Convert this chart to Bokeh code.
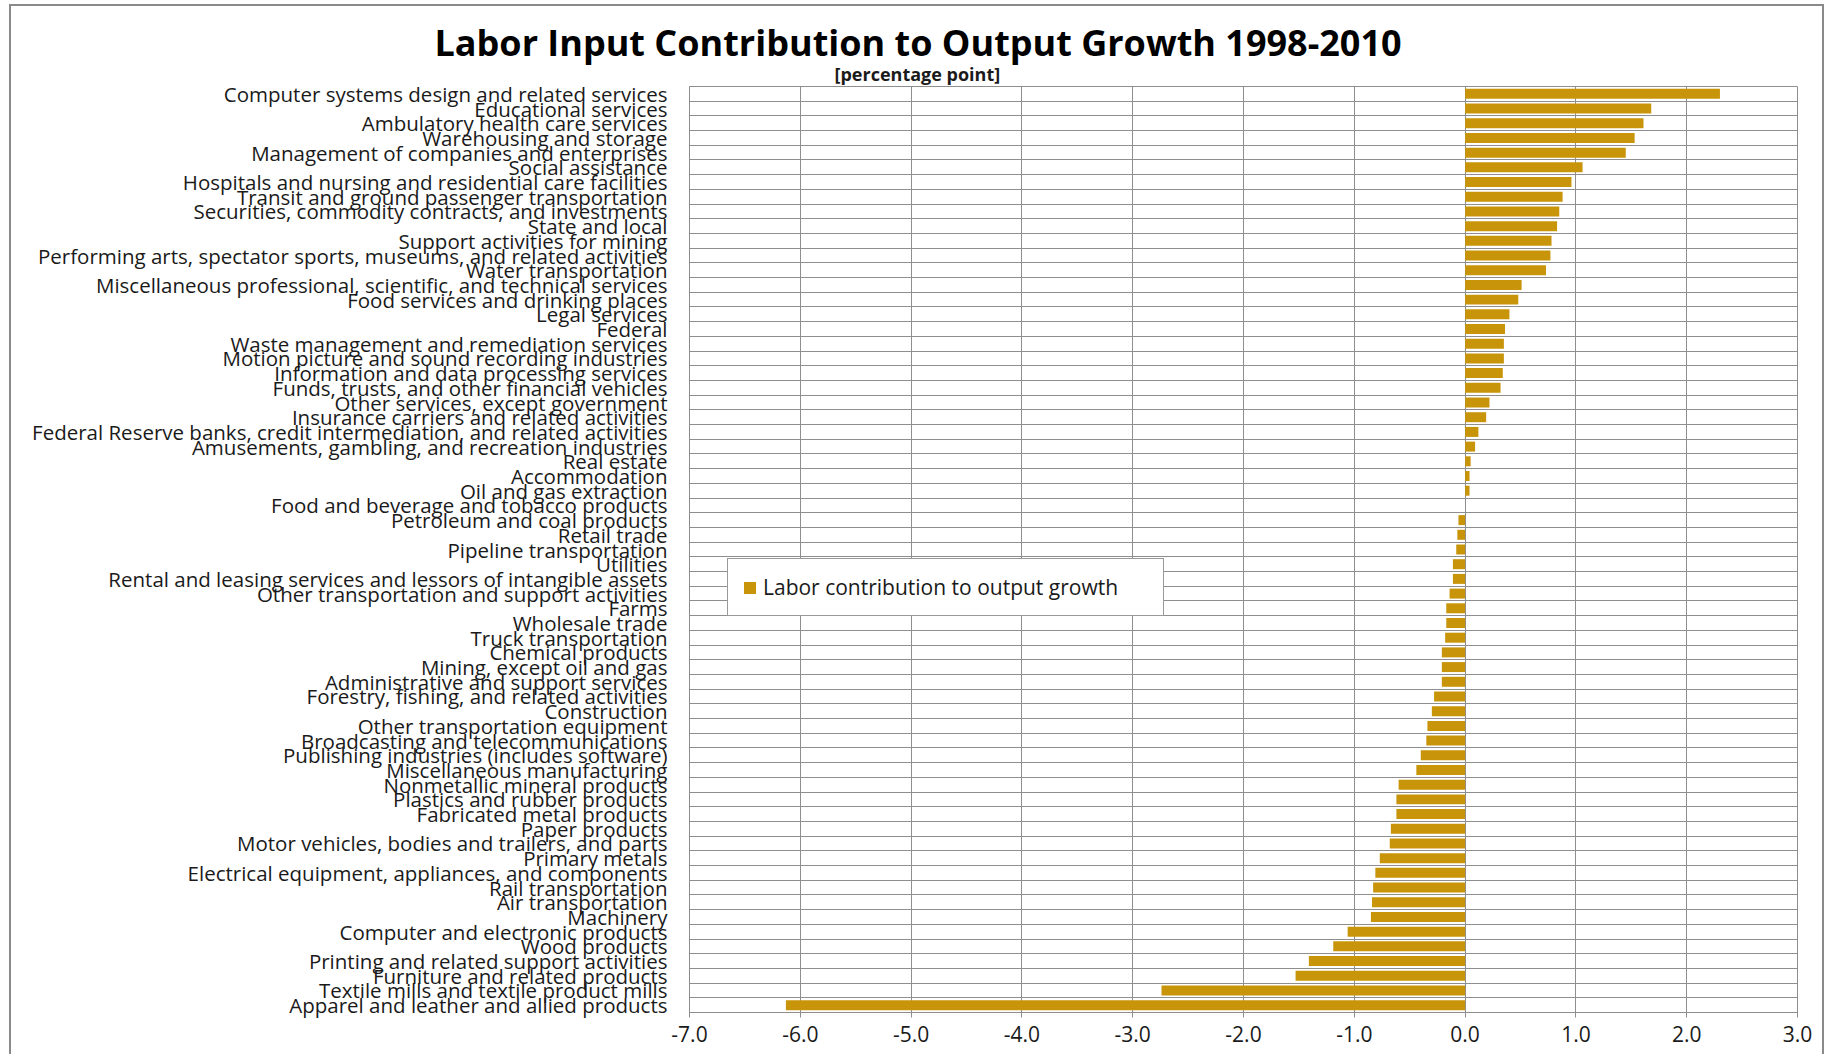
from bokeh.plotting import figure
from bokeh.models import (Range1d, FixedTicker, PrintfTickFormatter, Title, Legend, LegendItem,
                          ColumnDataSource)
from bokeh.embed import file_html
from bokeh.resources import INLINE

industries = [
    "Computer systems design and related services",
    "Educational services",
    "Ambulatory health care services",
    "Warehousing and storage",
    "Management of companies and enterprises",
    "Social assistance",
    "Hospitals and nursing and residential care facilities",
    "Transit and ground passenger transportation",
    "Securities, commodity contracts, and investments",
    "State and local",
    "Support activities for mining",
    "Performing arts, spectator sports, museums, and related activities",
    "Water transportation",
    "Miscellaneous professional, scientific, and technical services",
    "Food services and drinking places",
    "Legal services",
    "Federal",
    "Waste management and remediation services",
    "Motion picture and sound recording industries",
    "Information and data processing services",
    "Funds, trusts, and other financial vehicles",
    "Other services, except government",
    "Insurance carriers and related activities",
    "Federal Reserve banks, credit intermediation, and related activities",
    "Amusements, gambling, and recreation industries",
    "Real estate",
    "Accommodation",
    "Oil and gas extraction",
    "Food and beverage and tobacco products",
    "Petroleum and coal products",
    "Retail trade",
    "Pipeline transportation",
    "Utilities",
    "Rental and leasing services and lessors of intangible assets",
    "Other transportation and support activities",
    "Farms",
    "Wholesale trade",
    "Truck transportation",
    "Chemical products",
    "Mining, except oil and gas",
    "Administrative and support services",
    "Forestry, fishing, and related activities",
    "Construction",
    "Other transportation equipment",
    "Broadcasting and telecommunications",
    "Publishing industries (includes software)",
    "Miscellaneous manufacturing",
    "Nonmetallic mineral products",
    "Plastics and rubber products",
    "Fabricated metal products",
    "Paper products",
    "Motor vehicles, bodies and trailers, and parts",
    "Primary metals",
    "Electrical equipment, appliances, and components",
    "Rail transportation",
    "Air transportation",
    "Machinery",
    "Computer and electronic products",
    "Wood products",
    "Printing and related support activities",
    "Furniture and related products",
    "Textile mills and textile product mills",
    "Apparel and leather and allied products",
]

labor_contribution = [
    2.30, 1.68, 1.61, 1.53, 1.45, 1.06, 0.96, 0.88, 0.85, 0.83,
    0.78, 0.77, 0.73, 0.51, 0.48, 0.40, 0.36, 0.35, 0.35, 0.34,
    0.32, 0.22, 0.19, 0.12, 0.09, 0.05, 0.04, 0.04, 0.00, -0.06,
    -0.07, -0.08, -0.11, -0.11, -0.14, -0.17, -0.17, -0.18, -0.21, -0.21,
    -0.21, -0.28, -0.30, -0.34, -0.35, -0.40, -0.44, -0.60, -0.62, -0.62,
    -0.67, -0.68, -0.77, -0.81, -0.83, -0.84, -0.85, -1.06, -1.19, -1.41,
    -1.53, -2.74, -6.13,
]

x_ticks = [-7, -6, -5, -4, -3, -2, -1, 0, 1, 2, 3]

title_text = "Labor Input Contribution to Output Growth 1998-2010"
subtitle_text = "[percentage point]"
legend_text = "Labor contribution to output growth"

FONT = "Open Sans"
BAR = "#C8940A"
GRID = "#8E8E8E"
TEXT = "#1a1a1a"

n = len(industries)
positions = list(range(n))
source = ColumnDataSource(dict(pos=positions, value=labor_contribution, name=industries))

p = figure(width=1815, height=1050, output_backend="svg", toolbar_location=None,
           title=None, x_range=Range1d(x_ticks[0], x_ticks[-1]),
           y_range=Range1d(n - 0.5, -0.5),
           min_border_left=678, min_border_right=29, min_border_top=80, min_border_bottom=44)
p.styles = {"border-left": "2px solid #8a8a8a", "border-top": "2px solid #8a8a8a",
            "border-right": "2px solid #8a8a8a", "margin-left": "9px", "margin-top": "4px"}

r = p.hbar(y="pos", right="value", left=0, height=0.68, source=source,
           fill_color=BAR, line_color=None)

# x axis
p.xaxis.ticker = FixedTicker(ticks=x_ticks)
p.xaxis.formatter = PrintfTickFormatter(format="%.1f")
p.xaxis.major_label_text_font = FONT
p.xaxis.major_label_text_font_size = "21px"
p.xaxis.major_label_text_color = TEXT
p.xaxis.axis_line_color = GRID
p.xaxis.major_tick_line_color = GRID
p.xaxis.major_tick_out = 5
p.xaxis.major_tick_in = 0
p.xaxis.minor_tick_line_color = None
p.xaxis.major_label_standoff = 8

# y axis
p.yaxis.ticker = FixedTicker(ticks=positions)
p.yaxis.major_label_overrides = {i: nm for i, nm in zip(positions, industries)}
p.yaxis.major_label_text_font = FONT
p.yaxis.major_label_text_font_size = "20.5px"
p.yaxis.major_label_text_color = TEXT
p.yaxis.axis_line_color = GRID
p.yaxis.major_tick_line_color = None
p.yaxis.minor_tick_line_color = None
p.yaxis.major_tick_out = 0
p.yaxis.major_tick_in = 0
p.yaxis.major_label_standoff = 22

# grids
p.xgrid.ticker = FixedTicker(ticks=x_ticks)
p.xgrid.grid_line_color = GRID
p.xgrid.grid_line_width = 1
p.ygrid.ticker = FixedTicker(ticks=[k - 0.5 for k in range(n + 1)])
p.ygrid.grid_line_color = GRID
p.ygrid.grid_line_width = 1
p.outline_line_color = GRID
p.outline_line_width = 1

# titles (first added sits closest to the plot)
p.add_layout(Title(text=subtitle_text, align="left", offset=145, text_font=FONT,
                   text_font_size="18px", text_font_style="bold", text_color=TEXT,
                   standoff=2), "above")
p.add_layout(Title(text=title_text, align="left", offset=-255, text_font=FONT,
                   text_font_size="36px", text_font_style="bold", text_color="#000000",
                   standoff=-16), "above")

legend = Legend(items=[LegendItem(label=legend_text, renderers=[r])],
                location=(38, 396), padding=14, margin=0, spacing=0,
                glyph_width=15, glyph_height=15, label_standoff=6, label_width=386,
                label_text_font=FONT, label_text_font_size="21px", label_text_color=TEXT,
                border_line_color="#333333", border_line_width=1,
                background_fill_color="white", background_fill_alpha=1)
p.add_layout(legend, "center")

open("out.html", "w").write(file_html(p, INLINE))
